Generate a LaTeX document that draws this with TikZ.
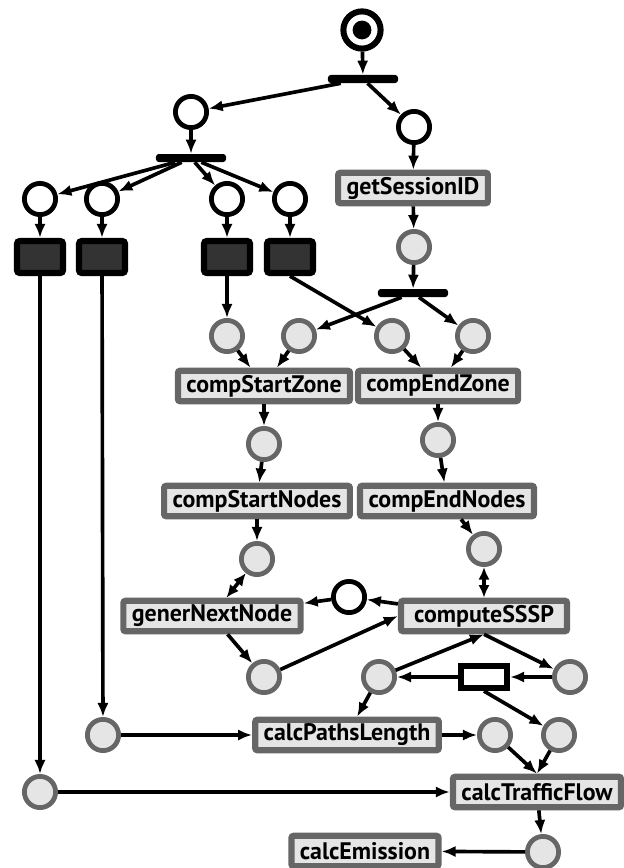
\documentclass[tikz,border=0pt]{standalone}
\usepackage{fontspec}
\setmainfont{PT Sans}
\usetikzlibrary{arrows.meta,positioning}

\begin{document}
\begin{tikzpicture}[x=0.025cm,y=-0.025cm,font=\fontsize{17}{20}\selectfont\bfseries,
  place/.style={circle,draw,line width=3.4pt,minimum size=0.78cm,inner sep=0pt,fill=white},
  gplace/.style={place,draw=black!60,fill=black!10},
  act/.style={draw=black!60,fill=black!10,line width=4.4pt,rounded corners=1.5pt,minimum height=0.76cm,inner xsep=6pt,inner ysep=0pt},
  hid/.style={draw,fill=black!80,line width=4.4pt,rounded corners=2pt,minimum width=1.15cm,minimum height=0.8cm},
  bar/.style={fill,rounded corners=2pt,minimum width=1.75cm,minimum height=0.2cm,inner sep=0pt},
  arr/.style={-{Latex[length=10pt,width=8pt]},line width=2.6pt},
  darr/.style={{Latex[length=9pt,width=8pt]}-{Latex[length=9pt,width=8pt]},line width=2.6pt}]
\useasboundingbox (0,0) rectangle (624,868);
% start and the two splits
\node[place,minimum size=0.93cm,line width=4.3pt] (start) at (362,30) {};
\node[circle,fill,minimum size=0.47cm,inner sep=0pt] (token) at (start) {};
\node[bar] (split) at (363,79) {};
\node[place] (pL) at (191,112) {};
\node[place] (pR) at (414,127) {};
\node[bar] (split2) at (191,158) {};
\node[place] (p1) at (40,199) {};
\node[place] (p2) at (102,199) {};
\node[place] (p3) at (227,199) {};
\node[place] (p4) at (290,199) {};
\node[hid] (h1) at (40,257) {};
\node[hid] (h2) at (102,257) {};
\node[hid] (h3) at (227,257) {};
\node[hid] (h4) at (290,257) {};
\node[act] (sess) at (413,188) {getSessionID};
\node[gplace] (gSess) at (414,247) {};
\node[bar] (split3) at (413,293) {};
% zones
\node[gplace] (g1) at (227,336) {};
\node[gplace] (g2) at (299,336) {};
\node[gplace] (g3) at (392,336) {};
\node[gplace] (g4) at (473,336) {};
\node[act] (sZone) at (264,386) {compStartZone};
\node[act] (eZone) at (438,386) {compEndZone};
\node[gplace] (gsZone) at (264,444) {};
\node[gplace] (geZone) at (438,440) {};
\node[act] (sNodes) at (257,501) {compStartNodes};
\node[act] (eNodes) at (447,501) {compEndNodes};
\node[gplace] (gsNodes) at (257,559) {};
\node[gplace] (geNodes) at (484,549) {};
% shortest paths
\node[act] (gener) at (212,616) {generNextNode};
\node[act,minimum width=4.15cm] (sssp) at (484,616) {computeSSSP};
\node[place] (pNext) at (349,597) {};
\node[gplace] (gGener) at (264,677) {};
\node[gplace] (gPath) at (379,677) {};
\node[gplace] (gDist) at (570,677) {};
\node[draw,line width=4.4pt,fill=white,minimum width=1.15cm,minimum height=0.55cm,inner sep=0pt] (wait) at (484,677) {};
\node[gplace] (gLen) at (103,735) {};
\node[act] (paths) at (347,735) {calcPathsLength};
\node[gplace] (gPaths) at (495,735) {};
\node[gplace] (gWait) at (559,735) {};
\node[gplace] (gFlow) at (40,792) {};
\node[act] (flow) at (537,792) {calcTrafficFlow};
\node[gplace] (gEmis) at (543,852) {};
\node[act] (emis) at (365,851) {calcEmission};

\draw[arr] (start)--(split);
\draw[arr] (split)--(pL);
\draw[arr] (split)--(pR);
\draw[arr] (pL)--(split2);
\foreach \p in {p1,p2,p3,p4} \draw[arr] (split2)--(\p);
\draw[arr] (p1)--(h1); \draw[arr] (p2)--(h2);
\draw[arr] (p3)--(h3); \draw[arr] (p4)--(h4);
\draw[arr] (pR)--(sess);
\draw[arr] (sess)--(gSess);
\draw[arr] (gSess)--(split3);
\draw[arr] (h3)--(g1);
\draw[arr] (h4.south)--(g3);
\draw[arr] (split3)--(g2);
\draw[arr] (split3)--(g4);
\draw[arr] (g1)--(sZone); \draw[arr] (g2)--(sZone);
\draw[arr] (g3)--(eZone); \draw[arr] (g4)--(eZone);
\draw[arr] (sZone)--(gsZone); \draw[arr] (eZone)--(geZone);
\draw[arr] (gsZone)--(sNodes); \draw[arr] (geZone)--(eNodes);
\draw[arr] (sNodes)--(gsNodes); \draw[arr] (eNodes)--(geNodes);
\draw[darr] (gsNodes)--(gener);
\draw[darr] (geNodes)--(sssp);
\draw[arr] (sssp)--(pNext);
\draw[arr] (pNext)--(gener);
\draw[arr] (gener)--(gGener);
\draw[arr] (gGener)--(sssp.west);
\draw[arr] (gPath)--(sssp.south);
\draw[arr] (sssp.south)--(gDist);
\draw[arr] (gDist)--(wait);
\draw[arr] (wait)--(gPath);
\draw[arr] (gPath)--(paths);
\draw[arr] (wait.south)--(gWait);
\draw[arr] (h2)--(gLen);
\draw[arr] (gLen)--(paths);
\draw[arr] (paths)--(gPaths);
\draw[arr] (h1)--(gFlow);
\draw[arr] (gFlow)--(flow);
\draw[arr] (gPaths)--(flow.north);
\draw[arr] (gWait)--(flow.north);
\draw[arr] (flow)--(gEmis);
\draw[arr] (gEmis)--(emis);
\end{tikzpicture}
\end{document}
